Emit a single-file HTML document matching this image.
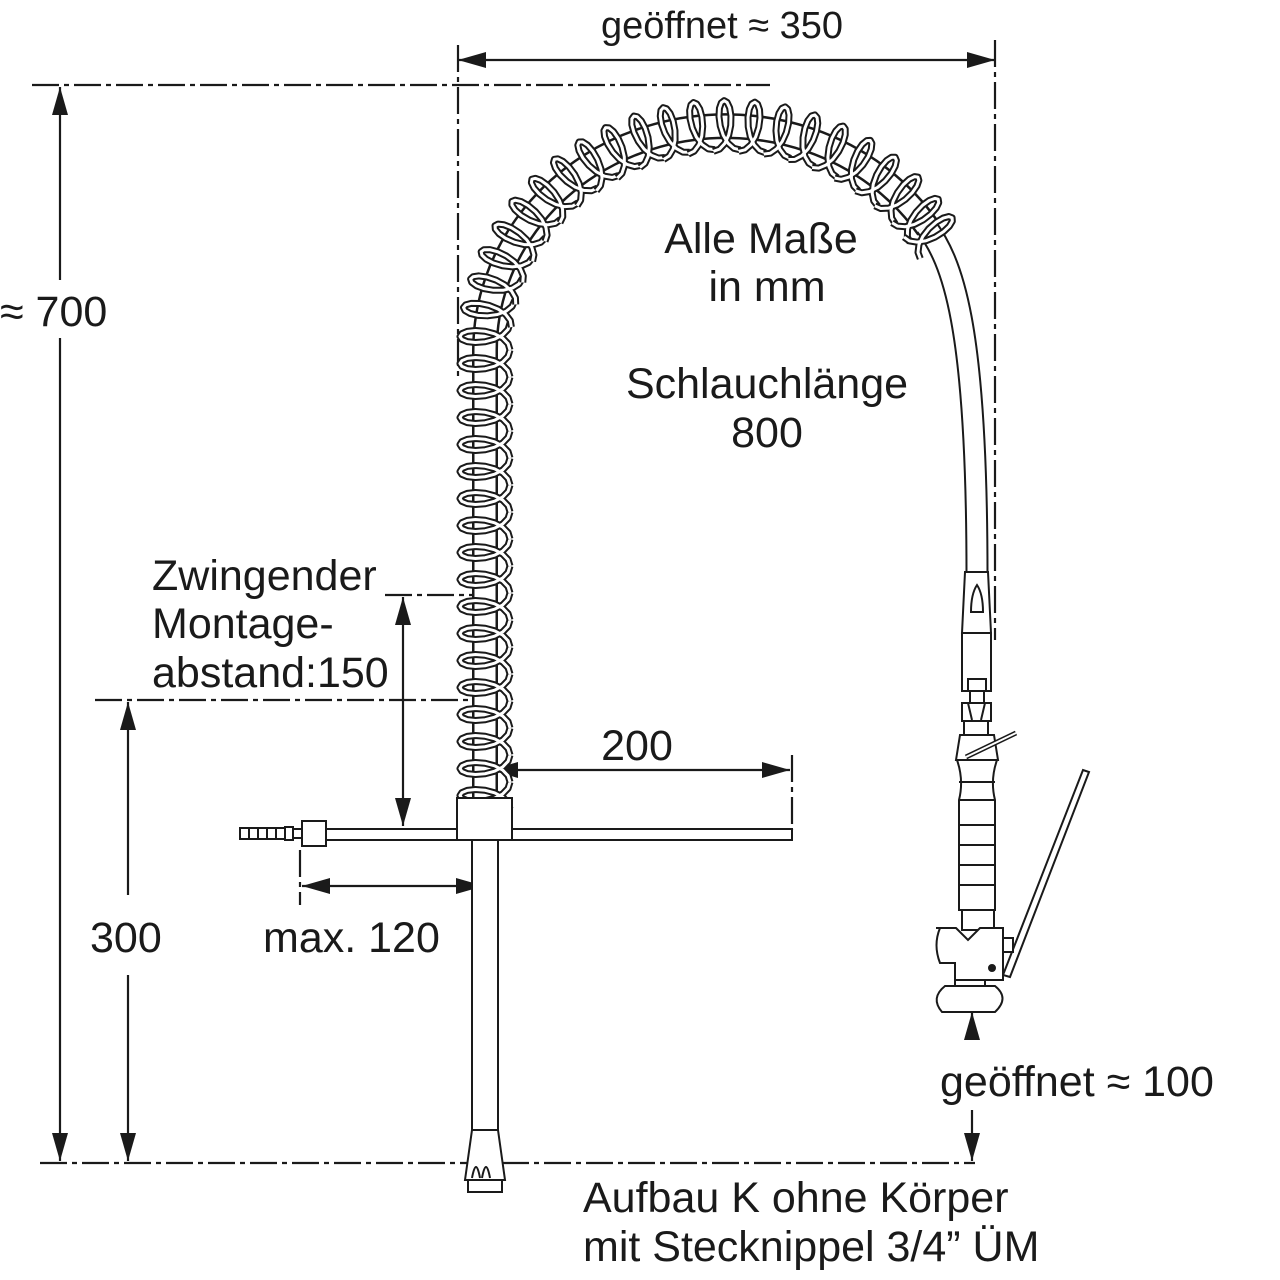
<!DOCTYPE html>
<html><head><meta charset="utf-8"><style>
html,body{margin:0;padding:0;background:#fff;}
svg{display:block;}
text{font-family:"Liberation Sans",Arial,sans-serif;font-size:43px;fill:#1a1a1a;}
</style></head><body>
<svg width="1280" height="1280" viewBox="0 0 1280 1280" xmlns="http://www.w3.org/2000/svg">
<defs>
<marker id="a" viewBox="0 0 28 16" refX="28" refY="8" markerWidth="28" markerHeight="16" markerUnits="userSpaceOnUse" orient="auto-start-reverse"><path d="M0,0 L28,8 L0,16 Z" fill="#1a1a1a"/></marker>
<g id="t"><path d="M0,25 L6.3,23.1 11.9,17.7 16.2,9.6 18.75,0 19.5,-9.6 18.6,-17.7 16.4,-23.1 13.5,-25 10.6,-23.1 8.4,-17.7 7.5,-9.6 8.25,0 10.8,9.6 15.1,17.7 20.7,23.1 27,25" fill="none" stroke="#1a1a1a" stroke-width="7" stroke-linejoin="round"/><path d="M0,25 L6.3,23.1 11.9,17.7 16.2,9.6 18.75,0 19.5,-9.6 18.6,-17.7 16.4,-23.1 13.5,-25 10.6,-23.1 8.4,-17.7 7.5,-9.6 8.25,0 10.8,9.6 15.1,17.7 20.7,23.1 27,25" fill="none" stroke="#fff" stroke-width="3" stroke-linejoin="round"/></g>
</defs>
<g stroke="#1a1a1a" stroke-width="2.2" fill="none" stroke-dasharray="27,5,5,5">
<line x1="32" y1="85" x2="770" y2="85"/>
<line x1="40" y1="1163" x2="975" y2="1163"/>
<line x1="458" y1="45" x2="458" y2="380"/>
<line x1="995" y1="40" x2="995" y2="640"/>
<line x1="385" y1="595" x2="478" y2="595"/>
<line x1="95" y1="700" x2="478" y2="700"/>
<line x1="300" y1="850" x2="300" y2="905"/>
<line x1="792" y1="755" x2="792" y2="830"/>
</g>
<g stroke="#1a1a1a" stroke-width="2.2" fill="none">
<line x1="458" y1="60" x2="995" y2="60" marker-start="url(#a)" marker-end="url(#a)"/>
<line x1="60" y1="280" x2="60" y2="87" marker-end="url(#a)"/>
<line x1="60" y1="338" x2="60" y2="1161" marker-end="url(#a)"/>
<line x1="128" y1="895" x2="128" y2="702" marker-end="url(#a)"/>
<line x1="128" y1="975" x2="128" y2="1161" marker-end="url(#a)"/>
<line x1="403" y1="597" x2="403" y2="826" marker-start="url(#a)" marker-end="url(#a)"/>
<line x1="490" y1="770" x2="790" y2="770" marker-start="url(#a)" marker-end="url(#a)"/>
<line x1="302" y1="886" x2="484" y2="886" marker-start="url(#a)" marker-end="url(#a)"/>
<line x1="972" y1="1040" x2="972" y2="1012" marker-end="url(#a)"/>
<line x1="972" y1="1110" x2="972" y2="1161" marker-end="url(#a)"/>
</g>
<text x="722" y="38" text-anchor="middle" style="font-size:38px">geöffnet ≈ 350</text>
<text x="0" y="326">≈ 700</text>
<text x="90" y="952">300</text>
<text x="637" y="760" text-anchor="middle">200</text>
<text x="263" y="952">max. 120</text>
<text x="940" y="1096">geöffnet ≈ 100</text>
<text x="761" y="253" text-anchor="middle">Alle Maße</text>
<text x="767" y="301" text-anchor="middle">in mm</text>
<text x="767" y="398" text-anchor="middle">Schlauchlänge</text>
<text x="767" y="447" text-anchor="middle">800</text>
<text x="152" y="590">Zwingender</text>
<text x="152" y="638">Montage-</text>
<text x="152" y="687">abstand:150</text>
<text x="583" y="1212">Aufbau K ohne Körper</text>
<text x="583" y="1261">mit Stecknippel 3/4” ÜM</text>

<path d="M485,809 L485,350 A241,224 0 0 1 928,228" fill="none" stroke="#1a1a1a" stroke-width="26"/>
<path d="M485,809 L485,350 A241,224 0 0 1 928,228" fill="none" stroke="#fff" stroke-width="21"/>
<path d="M926,226 C952,262 977,320 977,575" fill="none" stroke="#1a1a1a" stroke-width="23"/>
<path d="M926,226 C952,262 977,320 977,575" fill="none" stroke="#fff" stroke-width="19"/>
<g>
<use href="#t" transform="translate(485,809) rotate(-90)"/>
<use href="#t" transform="translate(485,782) rotate(-90)"/>
<use href="#t" transform="translate(485,755) rotate(-90)"/>
<use href="#t" transform="translate(485,728) rotate(-90)"/>
<use href="#t" transform="translate(485,701) rotate(-90)"/>
<use href="#t" transform="translate(485,674) rotate(-90)"/>
<use href="#t" transform="translate(485,647) rotate(-90)"/>
<use href="#t" transform="translate(485,620) rotate(-90)"/>
<use href="#t" transform="translate(485,593) rotate(-90)"/>
<use href="#t" transform="translate(485,566) rotate(-90)"/>
<use href="#t" transform="translate(485,539) rotate(-90)"/>
<use href="#t" transform="translate(485,512) rotate(-90)"/>
<use href="#t" transform="translate(485,485) rotate(-90)"/>
<use href="#t" transform="translate(485,458) rotate(-90)"/>
<use href="#t" transform="translate(485,431) rotate(-90)"/>
<use href="#t" transform="translate(485,404) rotate(-90)"/>
<use href="#t" transform="translate(485,377) rotate(-90)"/>
<use href="#t" transform="translate(485,350) rotate(-90)"/>
<use href="#t" transform="translate(486.6,324) rotate(-82.8)"/>
<use href="#t" transform="translate(491.5,298.3) rotate(-75.7)"/>
<use href="#t" transform="translate(499.5,273.4) rotate(-68.6)"/>
<use href="#t" transform="translate(510.6,249.5) rotate(-61.6)"/>
<use href="#t" transform="translate(524.6,226.9) rotate(-54.7)"/>
<use href="#t" transform="translate(541.4,206) rotate(-47.9)"/>
<use href="#t" transform="translate(560.7,187) rotate(-41.2)"/>
<use href="#t" transform="translate(582.2,170.2) rotate(-34.6)"/>
<use href="#t" transform="translate(605.5,156) rotate(-28.2)"/>
<use href="#t" transform="translate(630.6,144.3) rotate(-21.8)"/>
<use href="#t" transform="translate(656.9,135.4) rotate(-15.5)"/>
<use href="#t" transform="translate(684.2,129.4) rotate(-9.3)"/>
<use href="#t" transform="translate(712,126.4) rotate(-3.1)"/>
<use href="#t" transform="translate(740,126.4) rotate(3.1)"/>
<use href="#t" transform="translate(767.8,129.4) rotate(9.3)"/>
<use href="#t" transform="translate(795.1,135.4) rotate(15.5)"/>
<use href="#t" transform="translate(821.4,144.3) rotate(21.8)"/>
<use href="#t" transform="translate(846.5,156) rotate(28.2)"/>
<use href="#t" transform="translate(869.8,170.2) rotate(34.6)"/>
<use href="#t" transform="translate(891.3,187) rotate(41.2)"/>
<use href="#t" transform="translate(910.6,206) rotate(47.9)"/>
<use href="#t" transform="translate(924,222) rotate(53)"/>
</g>

<g stroke="#1a1a1a" stroke-width="2" fill="#fff">
<rect x="472" y="838" width="26" height="292"/>
<path d="M472,1130 L498,1130 L505,1180 L465,1180 Z"/>
<path d="M472,1178 q4,-22 8,0 M482,1178 q4,-22 8,0"/>
<rect x="468" y="1180" width="34" height="12"/>
<rect x="325" y="829" width="132" height="11"/>
<rect x="512" y="829" width="280" height="11"/>
<rect x="457" y="798" width="55" height="42"/>
<rect x="302" y="821" width="24" height="25"/>
<rect x="292" y="829" width="10" height="9"/>
<rect x="285" y="827" width="8" height="13"/>
<rect x="240" y="828" width="45" height="11"/>
<path d="M249,828 v11 M258,828 v11 M267,828 v11 M276,828 v11" fill="none"/>
</g>
<g stroke="#1a1a1a" stroke-width="2" fill="#fff">
<path d="M965,572 L988,572 L991,633 L962,633 Z"/>
<path d="M971,612 q0,-18 6,-27 q6,9 6,27 Z"/>
<rect x="962" y="633" width="29" height="58"/>
<rect x="968" y="679" width="18" height="12"/>
<rect x="970" y="691" width="14" height="12"/>
<rect x="962" y="703" width="29" height="18"/>
<path d="M968,703 L972,720 M985,703 L981,720" fill="none"/>
<rect x="964" y="721" width="24" height="14"/>
<path d="M960,735 L994,735 L998,760 L956,760 Z"/>
<path d="M957,760 L997,760 Q990,780 995,800 L995,910 L959,910 L959,800 Q964,780 957,760 Z"/>
<path d="M959,782 h36 M959,800 h36 M959,825 h36 M959,845 h36 M959,865 h36 M959,885 h36" fill="none"/>
<rect x="962" y="910" width="32" height="20"/>
<path d="M966,757 L1016,733" stroke-width="5"/>
<path d="M966,757 L1016,733" stroke="#fff" stroke-width="2"/>
<path d="M1083,770 L1003,975 L1010,977 L1089,772 Z"/>
<path d="M936,928 L956,928 L968,940 L980,928 L1003,928 L1003,980 L955,980 L955,963 L940,963 Q933,945 940,928 Z"/>
<rect x="1003" y="938" width="10" height="14"/>
<circle cx="992" cy="968" r="3" fill="#1a1a1a"/>
<rect x="955" y="980" width="30" height="6"/>
<path d="M945,986 Q930,998 942,1012 L995,1012 Q1010,998 995,986 Z"/>
</g>
</svg>
</body></html>
